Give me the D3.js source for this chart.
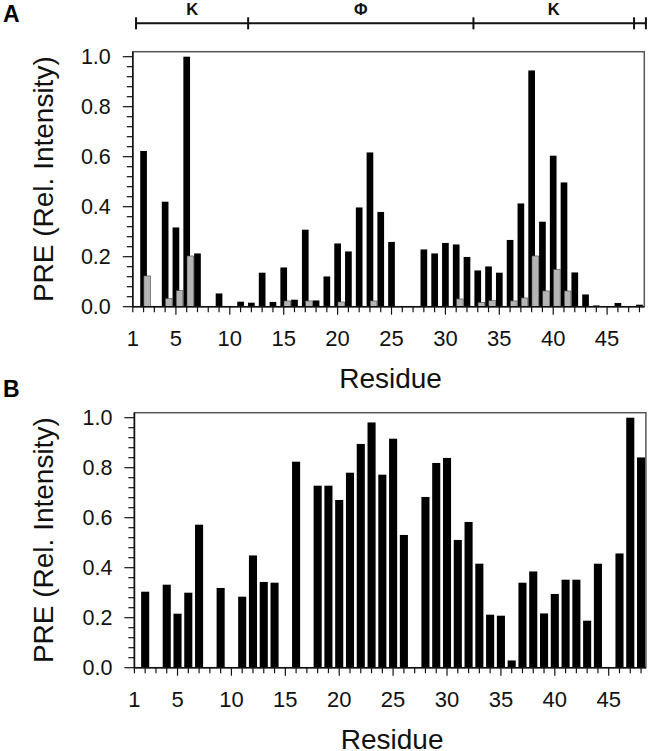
<!DOCTYPE html>
<html>
<head>
<meta charset="utf-8">
<script src="https://cdn.jsdelivr.net/npm/d3@7"></script>
<style>
  html, body { margin: 0; padding: 0; background: #fff; overflow: hidden; }
  svg { display: block; }
  text { font-family: Arial, "Liberation Sans", sans-serif; }
</style>
</head>
<body>
<script>
// Panel A: PRE profile, black = main, grey = control
var residuesA = [2,4,5,6,7,9,11,12,13,14,15,16,17,18,19,20,21,22,23,24,25,28,29,30,31,32,33,34,35,36,37,38,39,40,41,42,43,44,46,48];
var preA      = [0.623,0.42,0.317,1.0,0.213,0.053,0.02,0.016,0.136,0.019,0.157,0.028,0.308,0.025,0.121,0.253,0.221,0.397,0.617,0.379,0.259,0.229,0.213,0.255,0.249,0.199,0.145,0.161,0.136,0.267,0.413,0.945,0.34,0.604,0.497,0.137,0.049,0.005,0.015,0.008];
var greyResA  = [2,4,5,6,15,17,20,23,31,33,34,36,37,38,39,40,41];
var greyA     = [0.123,0.032,0.064,0.203,0.023,0.023,0.019,0.023,0.031,0.017,0.024,0.023,0.035,0.203,0.063,0.149,0.063];

// Panel B
var residuesB = [2,4,5,6,7,9,11,12,13,14,16,18,19,20,21,22,23,24,25,26,28,29,30,31,32,33,34,35,36,37,38,39,40,41,42,43,44,46,47,48];
var preB      = [0.304,0.332,0.216,0.3,0.572,0.319,0.284,0.449,0.343,0.34,0.824,0.728,0.728,0.671,0.78,0.895,0.981,0.772,0.916,0.531,0.683,0.819,0.839,0.511,0.583,0.416,0.212,0.208,0.029,0.34,0.385,0.217,0.295,0.352,0.352,0.188,0.416,0.457,1.0,0.841];

// segment bracket above panel A (residue units)
var segBounds = [1.3, 11.7, 32.6, 47.5, 48.6];
var segLabels = ["K", "\u03A6", "K"];

var xTickLabels = [1,5,10,15,20,25,30,35,40,45];
var yTickLabels = [0, 0.2, 0.4, 0.6, 0.8, 1.0];

var w = 649, h = 751;
var innerWidth = 511.5, innerHeight = 255;

var svg = d3.select("body").append("svg")
    .attr("width", w)
    .attr("height", h);

var x = d3.scaleLinear().domain([1, 48.45]).range([0, innerWidth]);
var y = d3.scaleLinear().domain([0, 1.02]).range([innerHeight, 0]);
var step = x(2) - x(1);

function drawPanel(left, top, letter, letterY) {
  var g = svg.append("g").attr("transform", `translate(${left},${top})`);

  // frame
  g.append("rect")
      .attr("x", 0).attr("y", 0)
      .attr("width", innerWidth).attr("height", innerHeight)
      .attr("fill", "none")
      .attr("stroke", "#555")
      .attr("stroke-width", 1.5);

  var bars = g.append("g");

  // y axis
  g.append("line")
      .attr("x1", 0).attr("x2", 0).attr("y1", 0).attr("y2", innerHeight)
      .attr("stroke", "#111").attr("stroke-width", 1.5);
  g.selectAll(".ymin").data(d3.range(0, 26).map(i => i * 0.04))
    .enter().append("line")
      .attr("x1", (d, i) => i % 5 == 0 ? -10 : -6)
      .attr("x2", 0)
      .attr("y1", d => y(d)).attr("y2", d => y(d))
      .attr("stroke", "#111").attr("stroke-width", 1.2);

  // x axis
  g.append("line")
      .attr("x1", 0).attr("x2", innerWidth)
      .attr("y1", innerHeight).attr("y2", innerHeight)
      .attr("stroke", "#111").attr("stroke-width", 1.5);
  g.selectAll(".xmin").data(d3.range(1, 49))
    .enter().append("line")
      .attr("x1", d => x(d)).attr("x2", d => x(d))
      .attr("y1", innerHeight)
      .attr("y2", d => innerHeight + (d % 5 == 0 ? 8 : 5.5))
      .attr("stroke", "#111").attr("stroke-width", 1.2);

  // labels, placed in page coordinates
  svg.selectAll(null).data(yTickLabels)
    .enter().append("text")
      .attr("x", left - 22)
      .attr("y", d => top + y(d) + 7.7)
      .attr("text-anchor", "end")
      .attr("font-size", 21.5)
      .attr("fill", "#111")
      .text(d => d.toFixed(1));

  svg.selectAll(null).data(xTickLabels)
    .enter().append("text")
      .attr("x", d => left + x(d))
      .attr("y", top + innerHeight + 39.5)
      .attr("text-anchor", "middle")
      .attr("font-size", 22)
      .attr("fill", "#111")
      .text(d => d);

  svg.append("text")
      .attr("x", left + innerWidth / 2 + 2)
      .attr("y", top + innerHeight + 81)
      .attr("text-anchor", "middle")
      .attr("font-size", 28)
      .attr("fill", "#111")
      .text("Residue");

  svg.append("text")
      .attr("transform", `translate(53,${top + innerHeight / 2}) rotate(-90)`)
      .attr("text-anchor", "middle")
      .attr("font-size", 28)
      .attr("fill", "#111")
      .text("PRE (Rel. Intensity)");

  svg.append("text")
      .attr("x", 3).attr("y", letterY)
      .attr("font-size", 23)
      .attr("font-weight", "bold")
      .text(letter);

  return bars;
}

// Panel A
var barsA = drawPanel(132.8, 51.7, "A", 22);
var bwA = step * 0.62;

barsA.selectAll(".black").data(residuesA)
  .enter().append("rect")
    .attr("x", d => x(d) - bwA / 2)
    .attr("y", (d, i) => y(preA[i]))
    .attr("width", bwA)
    .attr("height", (d, i) => innerHeight - y(preA[i]))
    .attr("fill", "#000");

barsA.selectAll(".grey").data(greyResA)
  .enter().append("rect")
    .attr("x", d => x(d) + 0.3)
    .attr("y", (d, i) => y(greyA[i]))
    .attr("width", bwA)
    .attr("height", (d, i) => innerHeight - y(greyA[i]))
    .attr("fill", "#b5b5b5")
    .attr("stroke", "#444")
    .attr("stroke-width", 0.6);

// bracket above A
var br = svg.append("g").attr("transform", "translate(132.8,23.3)");
br.append("line")
    .attr("x1", x(segBounds[0])).attr("x2", x(segBounds[segBounds.length - 1]))
    .attr("stroke", "#111").attr("stroke-width", 2);
br.selectAll(".bt").data(segBounds)
  .enter().append("line")
    .attr("x1", d => x(d)).attr("x2", d => x(d))
    .attr("y1", -6).attr("y2", 6)
    .attr("stroke", "#111").attr("stroke-width", 2);
svg.selectAll(null).data(segLabels)
  .enter().append("text")
    .attr("x", (d, i) => 132.8 + (x(segBounds[i]) + x(segBounds[i + 1])) / 2)
    .attr("y", 14.8)
    .attr("text-anchor", "middle")
    .attr("font-size", 16.5)
    .attr("font-weight", "bold")
    .attr("fill", "#111")
    .text(d => d);

// Panel B
var barsB = drawPanel(134.4, 412.7, "B", 397);
var bwB = step * 0.75;

barsB.selectAll(".black").data(residuesB)
  .enter().append("rect")
    .attr("x", d => x(d) - bwB / 2)
    .attr("y", (d, i) => y(preB[i]))
    .attr("width", bwB)
    .attr("height", (d, i) => innerHeight - y(preB[i]))
    .attr("fill", "#000");
</script>
</body>
</html>
